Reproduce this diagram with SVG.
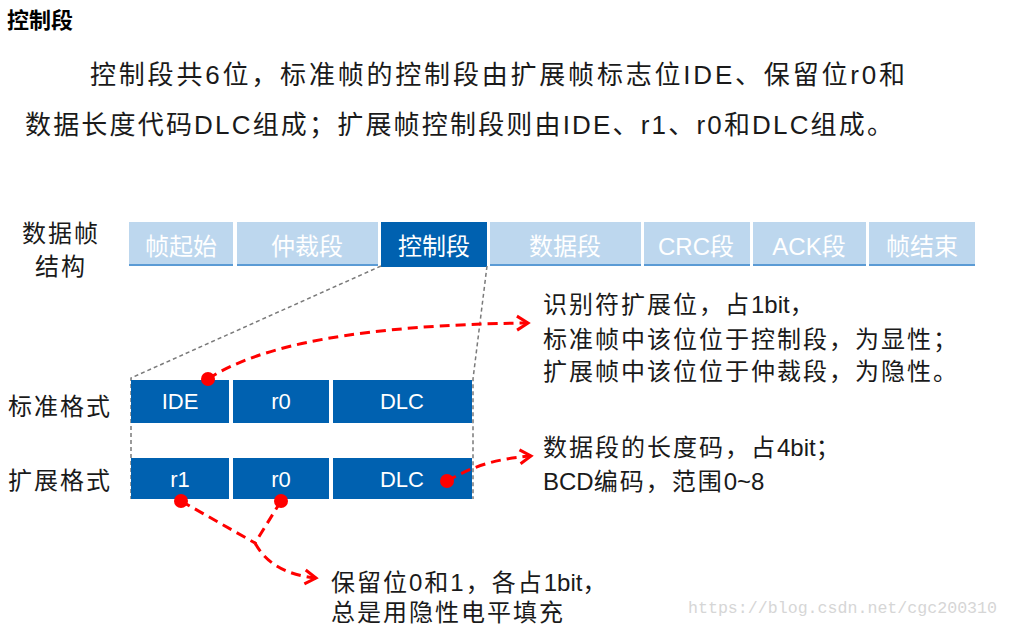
<svg xmlns="http://www.w3.org/2000/svg" width="1009" height="629" viewBox="0 0 1009 629">
<style>
text{font-family:"Liberation Sans","Noto Sans CJK SC",sans-serif;}
.t{fill:#1a1a1a;font-size:24px;letter-spacing:2px;}
.l{letter-spacing:0px;}
.p{fill:#1a1a1a;font-size:26px;}
.lc{fill:#bdd7ee;}
.ll{stroke:#5b9bd5;stroke-width:2;}
.dc{fill:#0061b0;}
.wt{fill:#ffffff;font-size:24px;text-anchor:middle;}
.ct{fill:#ffffff;font-size:22px;text-anchor:middle;}
.gd{fill:none;stroke:#7a7a7a;stroke-width:1.5;stroke-dasharray:4 3;}
.rd{fill:none;stroke:#ff0000;stroke-width:3;stroke-dasharray:10 6;}
.dot{fill:#ff0000;}
</style>
<defs>
<marker id="ah" markerUnits="userSpaceOnUse" markerWidth="18" markerHeight="18" refX="13" refY="9" orient="auto">
<path d="M2,2 L13,9 L2,16" fill="none" stroke="#ff0000" stroke-width="3"/>
</marker>
</defs>
<rect width="1009" height="629" fill="#ffffff"/>
<text x="7" y="28" style="font-size:22px;font-weight:bold;fill:#000;">控制段</text>
<text class="p" x="90" y="84" textLength="815" lengthAdjust="spacing">控制段共6位，标准帧的控制段由扩展帧标志位IDE、保留位r0和</text>
<text class="p" x="25" y="134" textLength="868" lengthAdjust="spacing">数据长度代码DLC组成；扩展帧控制段则由IDE、r1、r0和DLC组成。</text>

<g id="label-frame">
<text class="t" x="61" y="242" text-anchor="middle">数据帧</text>
<text class="t" x="61" y="275" text-anchor="middle">结构</text>
</g>
<g id="label-std"><text class="t" x="8" y="415">标准格式</text></g>
<g id="label-ext"><text class="t" x="8" y="489">扩展格式</text></g>

<g id="seg-sof"><rect class="lc" x="129" y="222" width="104" height="44"/><line class="ll" x1="129" y1="265" x2="233" y2="265"/><text class="wt" x="181" y="255">帧起始</text></g>
<g id="seg-arb"><rect class="lc" x="237" y="222" width="141" height="44"/><line class="ll" x1="237" y1="265" x2="378" y2="265"/><text class="wt" x="307" y="255">仲裁段</text></g>
<g id="seg-ctrl"><rect class="dc" x="381" y="222" width="106" height="45"/><text class="wt" x="434" y="255">控制段</text></g>
<g id="seg-data"><rect class="lc" x="490" y="222" width="151" height="44"/><line class="ll" x1="490" y1="265" x2="641" y2="265"/><text class="wt" x="565" y="255">数据段</text></g>
<g id="seg-crc"><rect class="lc" x="644" y="222" width="106" height="44"/><line class="ll" x1="644" y1="265" x2="750" y2="265"/><text class="wt" x="696" y="255">CRC段</text></g>
<g id="seg-ack"><rect class="lc" x="753" y="222" width="113" height="44"/><line class="ll" x1="753" y1="265" x2="866" y2="265"/><text class="wt" x="809" y="255">ACK段</text></g>
<g id="seg-eof"><rect class="lc" x="869" y="222" width="106" height="44"/><line class="ll" x1="869" y1="265" x2="975" y2="265"/><text class="wt" x="922" y="255">帧结束</text></g>

<g id="guides">
<path class="gd" d="M381,266 L131,378 L131,499"/>
<path class="gd" d="M487,266 L473,379 L473,499"/>
</g>

<g id="std-ide"><rect class="dc" x="131" y="380" width="98" height="43"/><text class="ct" x="180" y="409">IDE</text></g>
<g id="std-r0"><rect class="dc" x="233" y="380" width="96" height="43"/><text class="ct" x="281" y="409">r0</text></g>
<g id="std-dlc"><rect class="dc" x="333" y="380" width="139" height="43"/><text class="ct" x="402" y="409">DLC</text></g>
<g id="ext-r1"><rect class="dc" x="131" y="458" width="98" height="41"/><text class="ct" x="180" y="487">r1</text></g>
<g id="ext-r0"><rect class="dc" x="233" y="458" width="96" height="41"/><text class="ct" x="281" y="487">r0</text></g>
<g id="ext-dlc"><rect class="dc" x="333" y="458" width="139" height="41"/><text class="ct" x="402" y="487">DLC</text></g>

<g id="connectors">
<path class="rd" d="M208,379 C260,345 360,325 528,323" marker-end="url(#ah)"/>
<path class="rd" d="M447,481 C470,468 492,459 531,456" marker-end="url(#ah)"/>
<path class="rd" d="M181,501 L255,543"/>
<path class="rd" d="M281,501 L255,543"/>
<path class="rd" d="M255,543 C265,562 285,575 316,578" marker-end="url(#ah)"/>
<circle class="dot" cx="208" cy="379" r="7"/>
<circle class="dot" cx="447" cy="481" r="7"/>
<circle class="dot" cx="181" cy="501" r="7"/>
<circle class="dot" cx="281" cy="501" r="7"/>
</g>

<g id="note-ide">
<text class="t" x="543" y="313">识别符扩展位，占<tspan class="l">1bit</tspan>，</text>
<text class="t" x="543" y="348">标准帧中该位位于控制段，为显性；</text>
<text class="t" x="543" y="380">扩展帧中该位位于仲裁段，为隐性。</text>
</g>
<g id="note-dlc">
<text class="t" x="543" y="456">数据段的长度码，占<tspan class="l">4bit</tspan>；</text>
<text class="t" x="543" y="490"><tspan class="l">BCD</tspan>编码，范围<tspan class="l">0~8</tspan></text>
</g>
<g id="note-r">
<text class="t" x="331" y="591">保留位0和1，各占<tspan class="l">1bit</tspan>，</text>
<text class="t" x="331" y="621">总是用隐性电平填充</text>
</g>
<text x="688" y="613" textLength="309" lengthAdjust="spacingAndGlyphs" style="font-family:'Liberation Mono',monospace;font-size:16.5px;fill:#d6d6d6;">https://blog.csdn.net/cgc200310</text>
</svg>
